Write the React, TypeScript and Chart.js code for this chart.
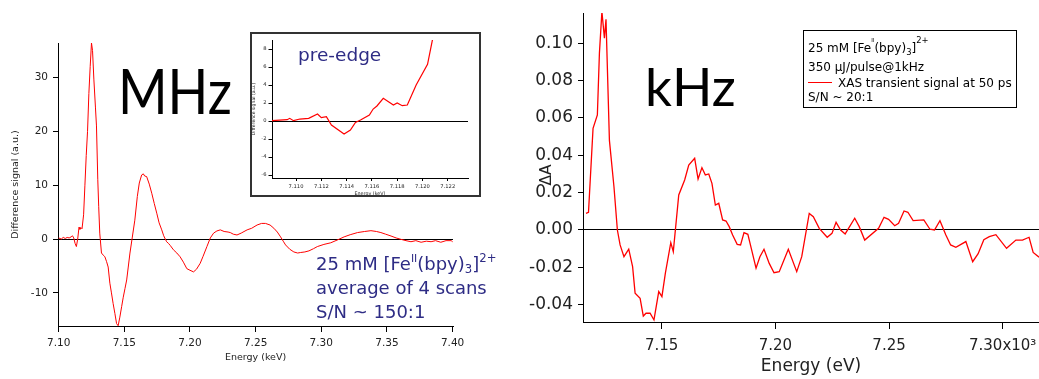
import React, { useEffect, useRef } from "react";
import { Chart, registerables } from "chart.js";

Chart.register(...registerables);

// ---------------- DATA ----------------
// MHz panel: difference signal (a.u.) vs energy (keV)
const mhzEnergy = [
  7.1, 7.102, 7.1035, 7.105, 7.1065, 7.108, 7.1095, 7.1105, 7.1115, 7.1125,
  7.1135, 7.1145, 7.1155, 7.1162, 7.117, 7.1178, 7.119, 7.12, 7.121, 7.122,
  7.123, 7.124, 7.125, 7.1258, 7.1268, 7.128, 7.1288, 7.1298, 7.1305, 7.1313,
  7.1326, 7.134, 7.1352, 7.1365, 7.1377, 7.139, 7.1402, 7.1415, 7.1428, 7.1441,
  7.1453, 7.1466, 7.148, 7.1492, 7.1505, 7.1518, 7.153, 7.1543, 7.156, 7.158,
  7.1599, 7.1614, 7.1632, 7.1645, 7.1655, 7.167, 7.169, 7.1709, 7.1728, 7.1747,
  7.1765, 7.1785, 7.18, 7.1822, 7.1836, 7.185, 7.1874, 7.19, 7.1925, 7.195,
  7.1976, 7.2, 7.2027, 7.205, 7.2078, 7.21, 7.2129, 7.2155, 7.218, 7.2205,
  7.2231, 7.226, 7.229, 7.2307, 7.233, 7.2358, 7.239, 7.2435, 7.247, 7.2511,
  7.2545, 7.2575, 7.261, 7.2639, 7.2665, 7.269, 7.271, 7.2728, 7.276, 7.2791,
  7.282, 7.2843, 7.2875, 7.2906, 7.294, 7.297, 7.302, 7.3072, 7.312, 7.3174,
  7.322, 7.3276, 7.333, 7.3378, 7.342, 7.3454, 7.349, 7.3531, 7.357, 7.3607,
  7.3645, 7.3683, 7.372, 7.376, 7.38, 7.3836, 7.387, 7.391, 7.395, 7.3989, 7.4,
];
const mhzSignal = [
  0.2, 0.0, 0.3, 0.1, 0.3, 0.2, 0.4, 0.6, 0.2, -0.8,
  -1.4, 0.0, 2.2, 1.8, 2.1, 1.9, 4.5, 10, 15.5, 20,
  27, 32, 36.4, 35, 29.7, 24.5, 21, 11, 6, 1.1,
  -2.6, -3.0, -3.3, -4.2, -5.2, -8.2, -10.0, -12.0, -13.8, -15.7,
  -16.1, -14.5, -12.5, -10.8, -9.2, -7.6, -5.2, -2.6, 0.2, 3.5,
  7.9, 10.4, 11.9, 12.1, 11.7, 11.6, 10.2, 8.5, 6.6, 4.8,
  3.0, 1.7, 0.6, -0.5, -0.8, -1.2, -2.0, -2.6, -3.3, -4.3,
  -5.5, -5.8, -6.1, -5.6, -4.5, -3.2, -1.4, 0.2, 1.1, 1.5,
  1.7, 1.4, 1.3, 1.2, 0.9, 0.75, 1.1, 1.7, 2.0, 2.6,
  2.9, 2.9, 2.6, 2.0, 1.3, 0.4, -0.4, -1.1, -1.9, -2.4,
  -2.6, -2.5, -2.4, -2.2, -1.8, -1.4, -1.0, -0.7, -0.2, 0.4,
  0.8, 1.2, 1.4, 1.55, 1.4, 1.2, 0.9, 0.56, 0.2, -0.06,
  -0.3, -0.5, -0.3, -0.6, -0.4, -0.5, -0.3, -0.6, -0.3, -0.3, -0.5,
];
const mhzXTicks = [7.1, 7.15, 7.2, 7.25, 7.3, 7.35, 7.4];
const mhzXTickLabels = ["7.10", "7.15", "7.20", "7.25", "7.30", "7.35", "7.40"];
const mhzYTicks = [-10, 0, 10, 20, 30];
const mhzYTickLabels = ["-10", "0", "10", "20", "30"];

// Pre-edge inset
const preEdgeEnergy = [
  7.1081, 7.1093, 7.1095, 7.1098, 7.1103, 7.111, 7.1117, 7.112, 7.1124, 7.1128,
  7.1138, 7.1143, 7.1147, 7.1151, 7.1158, 7.1161, 7.1164, 7.1169, 7.1177, 7.118,
  7.1184, 7.1188, 7.1195, 7.1204, 7.1208,
];
const preEdgeSignal = [
  0.04, 0.15, 0.3, 0.04, 0.22, 0.3, 0.78, 0.37, 0.48, -0.44,
  -1.44, -1.0, -0.15, 0.11, 0.67, 1.33, 1.67, 2.52, 1.78, 2.0,
  1.7, 1.78, 4.0, 6.3, 9.1,
];
const preEdgeXTicks = [7.11, 7.112, 7.114, 7.116, 7.118, 7.12, 7.122];
const preEdgeXTickLabels = ["7.110", "7.112", "7.114", "7.116", "7.118", "7.120", "7.122"];
const preEdgeYTicks = [-6, -4, -2, 0, 2, 4, 6, 8];
const preEdgeYTickLabels = ["-6", "-4", "-2", "0", "2", "4", "6", "8"];

// kHz panel: ΔA vs energy
const khzEnergy = [
  7.1167, 7.1178, 7.1198, 7.1217, 7.1226, 7.1237, 7.1248, 7.1255, 7.127, 7.129,
  7.1305, 7.1317, 7.1334, 7.1355, 7.1372, 7.1383, 7.1405, 7.1419, 7.1431, 7.1449,
  7.1466, 7.1487, 7.1501, 7.1516, 7.154, 7.1551, 7.1575, 7.1601, 7.1619, 7.1645,
  7.166, 7.1677, 7.1692, 7.1707, 7.1721, 7.1736, 7.1751, 7.1768, 7.1783, 7.1797,
  7.1812, 7.1832, 7.1847, 7.1862, 7.1879, 7.1894, 7.1915, 7.1932, 7.195, 7.1973,
  7.1994, 7.2017, 7.2057, 7.2094, 7.2116, 7.2149, 7.2167, 7.2193, 7.2228, 7.2249,
  7.2267, 7.2287, 7.2307, 7.2349, 7.2369, 7.2393, 7.2454, 7.2478, 7.2498, 7.2525,
  7.2542, 7.2566, 7.2583, 7.2606, 7.2653, 7.268, 7.27, 7.2724, 7.275, 7.2771,
  7.2794, 7.2838, 7.2868, 7.2892, 7.2917, 7.2941, 7.297, 7.3017, 7.3058, 7.3087,
  7.3116, 7.3134, 7.316, 7.318,
];
const khzSignal = [
  0.0089, 0.0095, 0.0545, 0.0616, 0.0947, 0.117, 0.1027, 0.1129, 0.048, 0.0232,
  0.0, -0.008, -0.0143, -0.0103, -0.0196, -0.0339, -0.0366, -0.0461, -0.0446, -0.0446,
  -0.0482, -0.033, -0.0357, -0.0232, -0.0068, -0.0116, 0.0188, 0.0268, 0.0348, 0.0384,
  0.0273, 0.0334, 0.0295, 0.03, 0.025, 0.0134, 0.0143, 0.0054, 0.0048, 0.0018,
  -0.0027, -0.0077, -0.008, -0.0014, -0.0023, -0.0098, -0.0205, -0.0143, -0.0103, -0.0179,
  -0.0229, -0.0223, -0.0103, -0.0223, -0.0143, 0.0089, 0.0071, 0.0009, -0.0039, -0.0018,
  0.0041, 0.0, -0.0021, 0.0063, 0.0018, -0.0054, 0.0009, 0.0068, 0.0057, 0.0023,
  0.0036, 0.0102, 0.0095, 0.005, 0.0054, 0.0004, 0.0, 0.005, -0.0027, -0.008,
  -0.0093, -0.0062, -0.017, -0.0127, -0.0052, -0.0036, -0.0025, -0.0098, -0.0054, -0.0054,
  -0.0039, -0.012, -0.0146, -0.016,
];
const khzXTicks = [7.15, 7.2, 7.25, 7.3];
const khzXTickLabels = ["7.15", "7.20", "7.25", "7.30x10\u00B3"];
const khzYTicks = [-0.04, -0.02, 0, 0.02, 0.04, 0.06, 0.08, 0.1];
const khzYTickLabels = ["-0.04", "-0.02", "0.00", "0.02", "0.04", "0.06", "0.08", "0.10"];

// ---------------- HELPERS ----------------
const FAMILY = "'DejaVu Sans', sans-serif";
const BLUE = "#2e2c85";
const RED = "#ff0000";

const pts = (xs: number[], ys: number[]) => xs.map((x, i) => ({ x, y: ys[i] }));

type Seg = { t: string; s?: number; dy?: number };
function drawRich(ctx: CanvasRenderingContext2D, x: number, y: number, segs: Seg[], size: number, family: string, color: string) {
  let cx = x;
  ctx.fillStyle = color;
  ctx.textBaseline = "alphabetic";
  ctx.textAlign = "left";
  for (const seg of segs) {
    const fs = size * (seg.s ?? 1);
    ctx.font = `${fs}px ${family}`;
    ctx.fillText(seg.t, cx, y + (seg.dy ?? 0) * size);
    cx += ctx.measureText(seg.t).width;
  }
}

const zeroGrid = (c: any) => (c.tick && c.tick.value === 0 ? "#000" : "rgba(0,0,0,0)");

function axisX(opts: any) {
  return {
    type: "linear",
    bounds: "data",
    min: opts.min,
    max: opts.max,
    afterBuildTicks: (s: any) => {
      s.ticks = opts.ticks.map((v: number) => ({ value: v }));
    },
    afterFit: (s: any) => {
      s.height = opts.height;
      s.paddingLeft = 0;
      s.paddingRight = 0;
    },
    ticks: {
      callback: (_v: any, i: number) => opts.labels[i],
      font: { family: FAMILY, size: opts.tickSize },
      color: "#222",
      padding: opts.tickPad,
      maxRotation: 0,
      autoSkip: false,
    },
    grid: { drawOnChartArea: false, drawTicks: true, tickLength: opts.tickLen, tickColor: "#000", tickWidth: 1 },
    border: { display: true, color: "#000", width: 1 },
    title: {
      display: opts.title !== "",
      text: opts.title,
      font: { family: FAMILY, size: opts.titleSize },
      color: "#222",
      padding: { top: 0, bottom: opts.titlePad },
    },
  };
}

function axisY(opts: any) {
  return {
    type: "linear",
    bounds: "data",
    min: opts.min,
    max: opts.max,
    afterBuildTicks: (s: any) => {
      s.ticks = opts.ticks.map((v: number) => ({ value: v }));
    },
    afterFit: (s: any) => {
      s.width = opts.width;
      s.paddingTop = 0;
      s.paddingBottom = 0;
    },
    ticks: {
      callback: (_v: any, i: number) => opts.labels[i],
      font: { family: FAMILY, size: opts.tickSize },
      color: "#222",
      padding: opts.tickPad,
      autoSkip: false,
    },
    grid: {
      drawOnChartArea: true,
      drawTicks: true,
      tickLength: opts.tickLen,
      tickColor: "#000",
      tickWidth: 1,
      color: zeroGrid,
      lineWidth: 1,
    },
    border: { display: true, color: "#000", width: 1 },
    title: {
      display: opts.title !== "",
      text: opts.title,
      font: { family: FAMILY, size: opts.titleSize },
      color: "#222",
      padding: { top: opts.titlePad, bottom: 0 },
    },
  };
}

const baseOptions = {
  animation: false,
  responsive: false,
  maintainAspectRatio: false,
  events: [],
};

// ---------------- CHART CONFIGS ----------------
function mhzConfig(): any {
  const textPlugin = {
    id: "mhzText",
    afterDraw(chart: any) {
      const ctx: CanvasRenderingContext2D = chart.ctx;
      ctx.save();
      ctx.fillStyle = "#000";
      ctx.font = "62px Lato, 'DejaVu Sans', sans-serif";
      ctx.textBaseline = "alphabetic";
      ctx.textAlign = "left";
      ctx.fillText("MHz", 118, 114, 114);
      drawRich(ctx, 316, 270, [
        { t: "25 mM [Fe" },
        { t: "II", s: 0.6, dy: -0.42 },
        { t: "(bpy)" },
        { t: "3", s: 0.65, dy: 0.15 },
        { t: "]" },
        { t: "2+", s: 0.65, dy: -0.42 },
      ], 18, FAMILY, BLUE);
      drawRich(ctx, 316, 294, [{ t: "average of 4 scans" }], 18, FAMILY, BLUE);
      drawRich(ctx, 316, 318, [{ t: "S/N ~ 150:1" }], 18, FAMILY, BLUE);
      ctx.restore();
    },
  };
  return {
    type: "line",
    data: {
      datasets: [
        { data: pts(mhzEnergy, mhzSignal), borderColor: RED, borderWidth: 1, pointRadius: 0, tension: 0, fill: false },
      ],
    },
    options: {
      ...baseOptions,
      layout: { padding: { left: 0, top: 43, right: 47, bottom: 0 } },
      plugins: { legend: { display: false }, tooltip: { enabled: false } },
      scales: {
        x: axisX({
          min: 7.0995, max: 7.4003, ticks: mhzXTicks, labels: mhzXTickLabels, height: 53,
          tickSize: 10.5, tickPad: 5, tickLen: 6, title: "Energy (keV)", titleSize: 9.5, titlePad: 16,
        }),
        y: axisY({
          min: -16.15, max: 36.4, ticks: mhzYTicks, labels: mhzYTickLabels, width: 58,
          tickSize: 10.5, tickPad: 5, tickLen: 5, title: "Difference signal (a.u.)", titleSize: 9.5, titlePad: 10,
        }),
      },
    },
    plugins: [textPlugin],
  };
}

function preEdgeConfig(): any {
  const insetPlugin = {
    id: "insetDeco",
    beforeDraw(chart: any) {
      const ctx: CanvasRenderingContext2D = chart.ctx;
      ctx.save();
      ctx.fillStyle = "#fff";
      ctx.fillRect(0, 0, chart.width, chart.height);
      ctx.restore();
    },
    afterDraw(chart: any) {
      const ctx: CanvasRenderingContext2D = chart.ctx;
      ctx.save();
      ctx.strokeStyle = "#333";
      ctx.lineWidth = 2;
      ctx.strokeRect(1, 1, chart.width - 2, chart.height - 2);
      drawRich(ctx, 48, 29, [{ t: "pre-edge" }], 18.5, FAMILY, BLUE);
      ctx.restore();
    },
  };
  return {
    type: "line",
    data: {
      datasets: [
        { data: pts(preEdgeEnergy, preEdgeSignal), borderColor: RED, borderWidth: 1.2, pointRadius: 0, tension: 0, fill: false },
      ],
    },
    options: {
      ...baseOptions,
      layout: { padding: { left: 0, top: 8, right: 13, bottom: 0 } },
      plugins: { legend: { display: false }, tooltip: { enabled: false } },
      scales: {
        x: axisX({
          min: 7.1081, max: 7.1236, ticks: preEdgeXTicks, labels: preEdgeXTickLabels, height: 19,
          tickSize: 5.2, tickPad: 2.5, tickLen: 3, title: "Energy (keV)", titleSize: 4.8, titlePad: 0.3,
        }),
        y: axisY({
          min: -6.33, max: 9.0, ticks: preEdgeYTicks, labels: preEdgeYTickLabels, width: 22,
          tickSize: 5.2, tickPad: 2, tickLen: 3.5, title: "Difference signal (a.u.)", titleSize: 4.6, titlePad: 1.2,
        }),
      },
    },
    plugins: [insetPlugin],
  };
}

function khzConfig(): any {
  const textPlugin = {
    id: "khzText",
    afterDraw(chart: any) {
      const ctx: CanvasRenderingContext2D = chart.ctx;
      ctx.save();
      // y-axis title
      ctx.save();
      ctx.translate(47, 175);
      ctx.rotate(-Math.PI / 2);
      ctx.fillStyle = "#222";
      ctx.font = `15.5px ${FAMILY}`;
      ctx.textAlign = "center";
      ctx.textBaseline = "middle";
      ctx.fillText("\u0394A", 0, 0);
      ctx.restore();
      ctx.fillStyle = "#000";
      ctx.font = "53px Lato, 'DejaVu Sans', sans-serif";
      ctx.textBaseline = "alphabetic";
      ctx.textAlign = "left";
      ctx.fillText("kHz", 145, 106, 94);
      // legend box
      ctx.strokeStyle = "#000";
      ctx.lineWidth = 1;
      ctx.fillStyle = "#fff";
      ctx.fillRect(303.5, 30.5, 213, 77);
      ctx.strokeRect(303.5, 30.5, 213, 77);
      drawRich(ctx, 308, 52, [
        { t: "25 mM [Fe" },
        { t: "II", s: 0.45, dy: -0.8 },
        { t: "(bpy)" },
        { t: "3", s: 0.7, dy: 0.25 },
        { t: "]" },
        { t: "2+", s: 0.7, dy: -0.75 },
      ], 12, FAMILY, "#000");
      drawRich(ctx, 308, 70.5, [{ t: "350 \u03BCJ/pulse@1kHz" }], 12, FAMILY, "#000");
      ctx.strokeStyle = RED;
      ctx.lineWidth = 1;
      ctx.beginPath();
      ctx.moveTo(308, 82.5);
      ctx.lineTo(332, 82.5);
      ctx.stroke();
      drawRich(ctx, 338, 86.5, [{ t: "XAS transient signal at 50 ps" }], 12, FAMILY, "#000");
      drawRich(ctx, 308, 101, [{ t: "S/N ~ 20:1" }], 12, FAMILY, "#000");
      ctx.restore();
    },
  };
  return {
    type: "line",
    data: {
      datasets: [
        { data: pts(khzEnergy, khzSignal), borderColor: RED, borderWidth: 1.3, pointRadius: 0, tension: 0, fill: false },
      ],
    },
    options: {
      ...baseOptions,
      layout: { padding: { left: 0, top: 13, right: 0, bottom: 0 } },
      plugins: { legend: { display: false }, tooltip: { enabled: false } },
      scales: {
        x: axisX({
          min: 7.11538, max: 7.31597, ticks: khzXTicks, labels: khzXTickLabels, height: 57,
          tickSize: 15, tickPad: 8, tickLen: 7, title: "Energy (eV)", titleSize: 17, titlePad: 2.5,
        }),
        y: axisY({
          min: -0.04929, max: 0.11625, ticks: khzYTicks, labels: khzYTickLabels, width: 83,
          tickSize: 17, tickPad: 5, tickLen: 5, title: "", titleSize: 17, titlePad: 0,
        }),
      },
    },
    plugins: [textPlugin],
  };
}

// ---------------- COMPONENTS ----------------
function ChartCanvas(props: { left: number; top: number; width: number; height: number; build: () => any }) {
  const ref = useRef<HTMLCanvasElement | null>(null);
  useEffect(() => {
    if (!ref.current) return;
    const chart = new Chart(ref.current, props.build());
    return () => chart.destroy();
  }, []);
  return (
    <canvas
      ref={ref}
      width={props.width}
      height={props.height}
      style={{ position: "absolute", left: props.left, top: props.top, width: props.width, height: props.height, display: "block" }}
    />
  );
}

export default function App() {
  return (
    <div style={{ position: "absolute", left: 0, top: 0, width: 1039, height: 379, background: "#fff", overflow: "hidden" }}>
      <ChartCanvas left={0} top={0} width={500} height={379} build={mhzConfig} />
      <ChartCanvas left={250} top={32} width={231} height={165} build={preEdgeConfig} />
      <ChartCanvas left={500} top={0} width={539} height={379} build={khzConfig} />
    </div>
  );
}
